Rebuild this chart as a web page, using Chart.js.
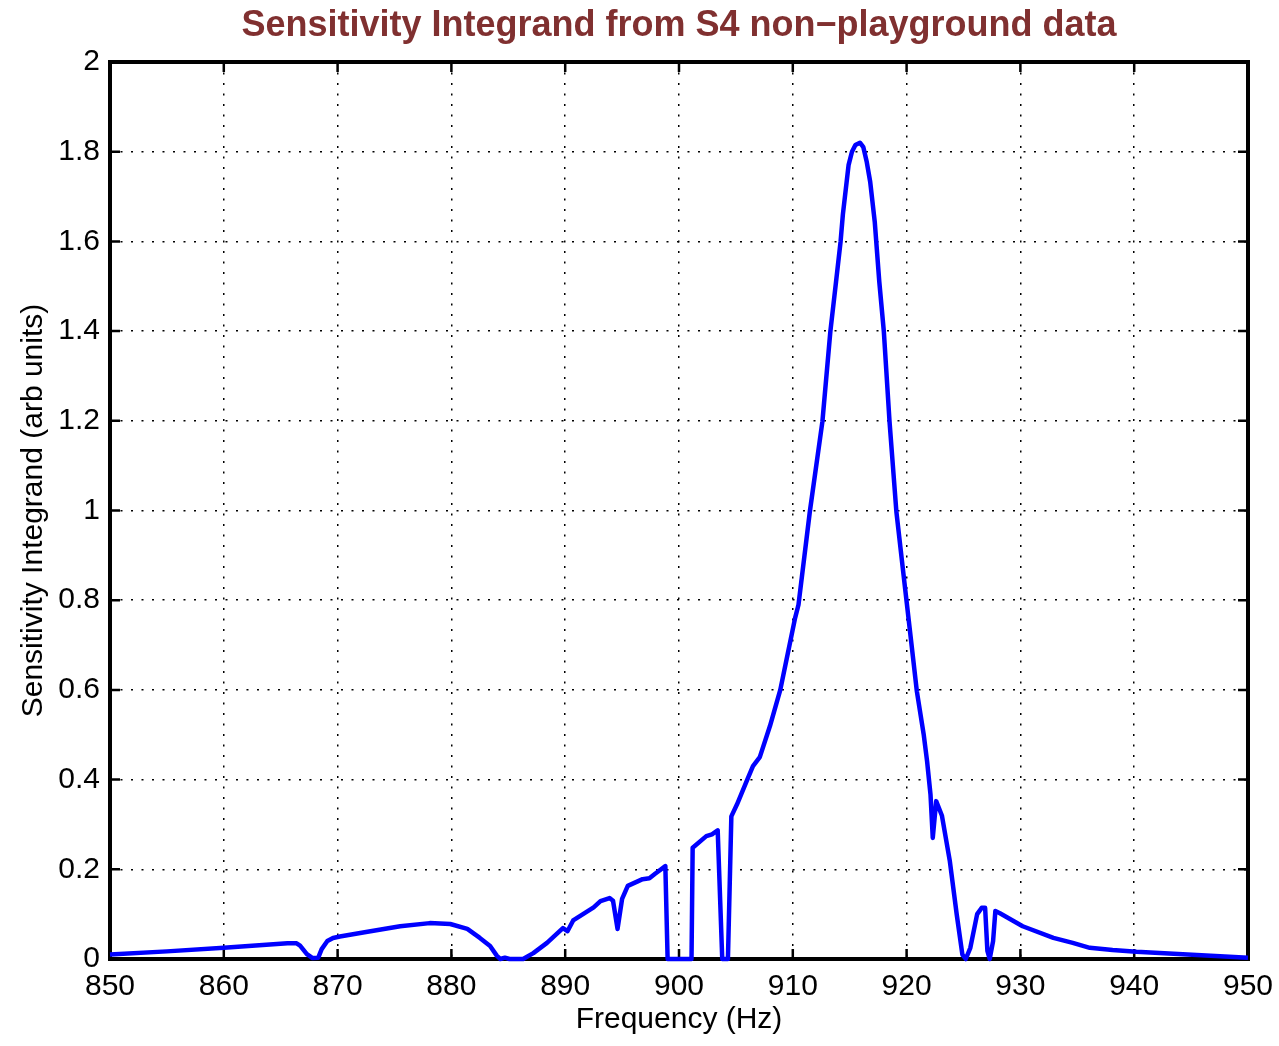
<!DOCTYPE html>
<html>
<head>
<meta charset="utf-8">
<script src="https://cdn.jsdelivr.net/npm/chart.js@4.4.0/dist/chart.umd.min.js"></script>
<style>
  html, body { margin: 0; padding: 0; background: #fff; }
  #wrap { width: 1279px; height: 1046px; }
</style>
</head>
<body>
<div id="wrap"><canvas id="myChart"></canvas></div>
<script>
// valores
const freqHz = [850, 855, 860, 865.6, 866.4, 866.7, 867.3, 867.8, 868.3, 868.6, 869.1, 869.6, 870.2, 872.5,
    875.5, 878.1, 879.9, 881.4, 882.5, 883.4, 884.0, 884.3, 884.7, 885.1, 886.3, 887.2, 888.4, 889.8,
    890.2, 890.7, 892.5, 893.1, 893.9, 894.2, 894.6, 895.0, 895.5, 896.8, 897.4, 897.9, 898.8, 899.0,
    901.1, 901.2, 902.4, 902.9, 903.4, 903.8, 904.3, 904.6, 905.1, 906.0, 906.5, 907.1, 908.0, 908.9,
    909.6, 910.2, 910.5, 911.5, 912.6, 913.3, 913.8, 914.2, 914.4, 914.9, 915.2, 915.5, 915.9, 916.2,
    916.5, 916.8, 917.2, 917.6, 918.0, 918.5, 919.1, 919.6, 920.0, 920.6, 920.9, 921.5, 921.8, 922.1,
    922.3, 922.6, 923.1, 923.8, 924.4, 924.9, 925.2, 925.6, 926.2, 926.6, 926.9, 927.1, 927.3, 927.6,
    927.8, 928.2, 930.2, 932.9, 934.6, 936.1, 938.1, 940.2, 945.5, 950];

const integrand = [0.010, 0.017, 0.025, 0.035, 0.035, 0.030, 0.011, 0.002, 0.003, 0.022, 0.040, 0.047, 0.050, 0.060,
    0.073, 0.080, 0.078, 0.067, 0.047, 0.029, 0.007, 0, 0.003, 0, 0, 0.013, 0.036, 0.069,
    0.062, 0.086, 0.115, 0.129, 0.136, 0.130, 0.067, 0.134, 0.163, 0.178, 0.180, 0.190, 0.207, 0,
    0, 0.248, 0.274, 0.278, 0.287, 0, 0, 0.318, 0.345, 0.400, 0.430, 0.450, 0.520, 0.600,
    0.686, 0.760, 0.790, 0.998, 1.198, 1.399, 1.510, 1.600, 1.660, 1.770, 1.800, 1.815, 1.820, 1.810,
    1.777, 1.733, 1.644, 1.510, 1.399, 1.198, 0.998, 0.886, 0.797, 0.664, 0.597, 0.501, 0.441, 0.367,
    0.270, 0.352, 0.320, 0.218, 0.100, 0.010, 0, 0.025, 0.100, 0.114, 0.114, 0.018, 0, 0.040,
    0.107, 0.102, 0.073, 0.047, 0.036, 0.025, 0.020, 0.016, 0.009, 0.003];

const xTicks = [850, 860, 870, 880, 890, 900, 910, 920, 930, 940, 950];
const yTicks = [0, 0.2, 0.4, 0.6, 0.8, 1, 1.2, 1.4, 1.6, 1.8, 2];

const TITLE = 'Sensitivity Integrand from S4 non\u2212playground data';
const FONT = '"Liberation Sans", Arial, Helvetica, sans-serif';

// caja negra y marcas hacia adentro (estilo matlab) + titulo centrado sobre el area
const boxPlugin = {
    id: 'matlabBox',
    beforeDatasetsDraw(chart) {
        const { ctx, chartArea: a, scales } = chart;
        const len = 10;
        ctx.save();
        ctx.strokeStyle = '#000';
        ctx.lineWidth = 2.5;
        ctx.beginPath();
        xTicks.forEach(v => {
            const x = scales.x.getPixelForValue(v);
            ctx.moveTo(x, a.bottom); ctx.lineTo(x, a.bottom - len);
            ctx.moveTo(x, a.top); ctx.lineTo(x, a.top + len);
        });
        yTicks.forEach(v => {
            const y = scales.y.getPixelForValue(v);
            ctx.moveTo(a.left, y); ctx.lineTo(a.left + len, y);
            ctx.moveTo(a.right, y); ctx.lineTo(a.right - len, y);
        });
        ctx.stroke();
        ctx.lineWidth = 4;
        ctx.strokeRect(a.left, a.top, a.right - a.left, a.bottom - a.top);
        ctx.restore();
    },
    afterDraw(chart) {
        const { ctx, chartArea: a } = chart;
        ctx.save();
        ctx.fillStyle = '#803030';
        ctx.font = 'bold 36px ' + FONT;
        ctx.textAlign = 'center';
        ctx.textBaseline = 'alphabetic';
        ctx.fillText(TITLE, (a.left + a.right) / 2, 36);
        ctx.restore();
    }
};

const ctx = document.getElementById('myChart');

new Chart(ctx, {
    type: 'scatter',
    data: {
        datasets: [{
            data: freqHz.map((f, i) => ({ x: f, y: integrand[i] })),
            showLine: true,
            borderColor: '#0000ff',
            borderWidth: 4.5,
            borderJoinStyle: 'round',
            pointRadius: 0,
            tension: 0,
            clip: false
        }]
    },
    options: {
        responsive: true,
        maintainAspectRatio: false,
        animation: false,
        layout: { padding: { left: 0, right: 31, top: 62, bottom: 0 } },
        plugins: {
            legend: { display: false },
            tooltip: { enabled: false },
            title: { display: false }
        },
        scales: {
            x: {
                type: 'linear',
                min: 850,
                max: 950,
                afterBuildTicks: s => { s.ticks = xTicks.map(v => ({ value: v })); },
                afterFit: s => { s.height = 87; s.paddingRight = 0; s.paddingLeft = 0; },
                ticks: { color: '#000', font: { family: FONT, size: 30 }, padding: 10, maxRotation: 0 },
                grid: { color: '#000', lineWidth: 1.5, drawTicks: false },
                border: { display: false, dash: [2, 8.5] },
                title: {
                    display: true,
                    text: 'Frequency (Hz)',
                    color: '#000',
                    font: { family: FONT, size: 30 },
                    padding: { top: 0, bottom: 8 }
                }
            },
            y: {
                min: 0,
                max: 2,
                afterBuildTicks: s => { s.ticks = yTicks.map(v => ({ value: v })); },
                afterFit: s => { s.width = 110; },
                ticks: {
                    color: '#000',
                    font: { family: FONT, size: 30 },
                    padding: 10,
                    callback: v => String(v)
                },
                grid: { color: '#000', lineWidth: 1.5, drawTicks: false },
                border: { display: false, dash: [2, 8.5] },
                title: {
                    display: true,
                    text: 'Sensitivity Integrand (arb units)',
                    color: '#000',
                    font: { family: FONT, size: 30 },
                    padding: { top: 16, bottom: 0 }
                }
            }
        }
    },
    plugins: [boxPlugin]
});
</script>
</body>
</html>
